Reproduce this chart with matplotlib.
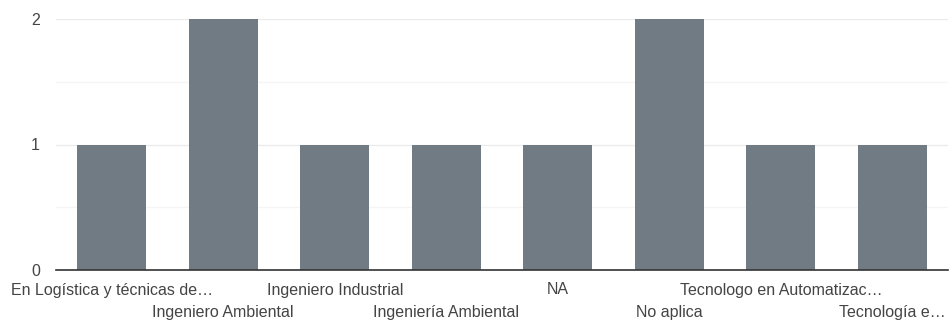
import numpy as np
import matplotlib.pyplot as plt

plt.rcParams['font.family'] = ['Liberation Sans', 'DejaVu Sans']

categories = ['En Logística y técnicas de…', 'Ingeniero Ambiental', 'Ingeniero Industrial',
              'Ingeniería Ambiental', 'NA', 'No aplica',
              'Tecnologo en Automatizac…', 'Tecnología e…']
counts = [1, 2, 1, 1, 1, 2, 1, 1]
y_ticks = [0, 1, 2]

bar_color = '#707b83'
text_color = '#444444'

fig = plt.figure(figsize=(9.49, 3.2), dpi=100)
ax = fig.add_axes([56/949, 1-270/320, 892/949, 251/320])

x = np.arange(len(categories))
ax.bar(x, counts, width=0.62, color=bar_color, zorder=3)

ax.set_xlim(-0.5, len(categories) - 0.5)
ax.set_ylim(0, 2)
ax.set_yticks(y_ticks)
ax.set_yticks([0.5, 1.5], minor=True)
ax.grid(axis='y', which='major', color='#ebebeb', linewidth=1, zorder=0)
ax.grid(axis='y', which='minor', color='#f5f5f5', linewidth=1, zorder=0)
ax.tick_params(axis='y', which='both', length=0, pad=11.5, labelsize=11.5, labelcolor=text_color)
ax.tick_params(axis='x', length=0, labelbottom=False)

for side in ['left', 'right', 'top']:
    ax.spines[side].set_visible(False)
ax.spines['bottom'].set_color('#333333')
ax.spines['bottom'].set_linewidth(1.2)
ax.spines['bottom'].set_zorder(4)

# staggered category labels in two rows
for i, label in enumerate(categories):
    offset = -20 if i % 2 == 0 else -42
    ax.annotate(label, xy=(i, 0), xycoords='data', xytext=(0, offset),
                textcoords='offset pixels', ha='center', va='center',
                fontsize=11.5, color=text_color)

fig.savefig('out.png', dpi=100)
